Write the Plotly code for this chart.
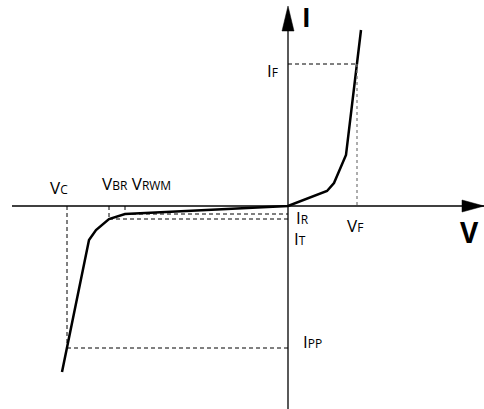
import plotly.graph_objects as go

# I-V characteristic of a TVS diode (arbitrary units, origin at axis crossing)
curve_v = [73, 69, 58, 46, 39, 0, -163, -179, -192, -199, -221, -226]
curve_i = [176, 142, 51, 23, 15, 0, -8, -13, -24, -34, -142, -166]

V_C, V_BR, V_RWM, V_F = -221, -179, -163, 69
I_F, I_R, I_T, I_PP = 142, -8, -13, -142

FONT = "Open Sans"
big, small = 17, 12


def sub(main, s):
    return f"{main}<span style='font-size:{small}px'>{s}</span>"


fig = go.Figure()

# main curve
fig.add_trace(go.Scatter(x=curve_v, y=curve_i, mode="lines",
                         line=dict(color="black", width=2.5), hoverinfo="skip"))

dash = dict(color="black", width=1, dash="4px,3px")
ref_lines = [
    ([0, V_F], [I_F, I_F], dash),
    ([V_F, V_F], [I_F, 0], dict(color="#777777", width=1.2, dash="3px,3px")),
    ([V_C, V_C], [0, I_PP], dash),
    ([V_C, 0], [I_PP, I_PP], dash),
    ([V_BR, V_BR], [0, I_T], dash),
    ([V_BR, 0], [I_T, I_T], dash),
    ([V_RWM, V_RWM], [0, I_R], dash),
    ([V_RWM, 0], [I_R, I_R], dash),
]
for xs, ys, ln in ref_lines:
    fig.add_trace(go.Scatter(x=xs, y=ys, mode="lines", line=ln, hoverinfo="skip"))

# axes
shapes = [
    dict(type="line", x0=-276, x1=466, y0=0, y1=0, xref="x", yref="y",
         line=dict(color="black", width=1.3)),
    dict(type="line", x0=0, x1=0, y0=-205, y1=178, xref="x", yref="y",
         line=dict(color="black", width=1.3)),
    dict(type="path", path="M 174,6 L 196,0 L 174,-6 Z", fillcolor="black",
         line=dict(color="black", width=0.5), xref="x", yref="y"),
    dict(type="path", path="M -6,175 L 0,200 L 6,175 Z", fillcolor="black",
         line=dict(color="black", width=0.5), xref="x", yref="y"),
]

anns = [
    (18, 189, "<b>I</b>", 26),
    (181, -26, "<b>V</b>", 28),
    (-16, 136, sub("I", "F"), big),
    (-229, 19, sub("V", "C"), big),
    (-152, 23, sub("V", "BR") + " " + sub("V", "RWM"), big),
    (14, -11, sub("I", "R"), big),
    (12, -32, sub("I", "T"), big),
    (67, -19, sub("V", "F"), big),
    (24, -135, sub("I", "PP"), big),
]
annotations = [dict(x=x, y=y, text=t, showarrow=False, xref="x", yref="y",
                    borderpad=0,
                    font=dict(family=FONT, size=s, color="black"))
               for x, y, t, s in anns]

fig.update_layout(
    width=484, height=409, margin=dict(l=0, r=0, t=0, b=0),
    paper_bgcolor="white", plot_bgcolor="white", showlegend=False,
    shapes=shapes, annotations=annotations,
    xaxis=dict(range=[-288, 196], visible=False, fixedrange=True),
    yaxis=dict(range=[-203, 206], visible=False, fixedrange=True),
)

fig.write_html("out.html", config={"displayModeBar": False},
               post_script="document.body.style.margin='0px';")
